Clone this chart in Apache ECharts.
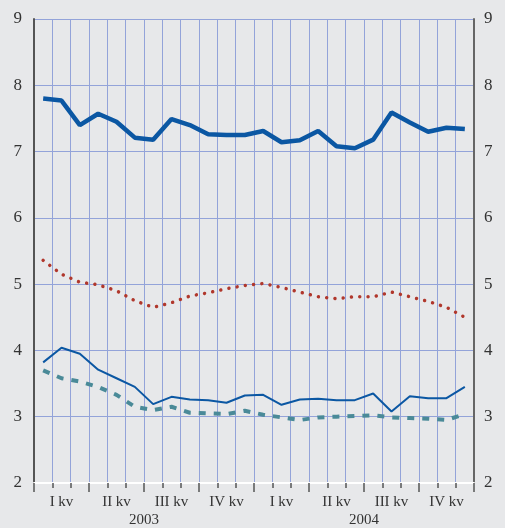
<!DOCTYPE html>
<html>
<head>
<meta charset="utf-8">
<script src="https://cdn.jsdelivr.net/npm/echarts@6/dist/echarts.min.js"></script>
<style>
html,body{margin:0;padding:0;background:#e7e8ea;}
#c{width:505px;height:528px;}
</style>
</head>
<body>
<div id="c"></div>
<script>
const months = ['2003-01','2003-02','2003-03','2003-04','2003-05','2003-06','2003-07','2003-08','2003-09','2003-10','2003-11','2003-12',
                '2004-01','2004-02','2004-03','2004-04','2004-05','2004-06','2004-07','2004-08','2004-09','2004-10','2004-11','2004-12'];
const quarters = ['I kv','II kv','III kv','IV kv','I kv','II kv','III kv','IV kv'];
const years = ['2003','2004'];
const yTicks = [2,3,4,5,6,7,8,9];

const thickBlue = [7.80,7.77,7.40,7.57,7.45,7.21,7.18,7.49,7.40,7.26,7.25,7.25,
                   7.31,7.14,7.17,7.31,7.08,7.05,7.18,7.59,7.44,7.30,7.36,7.34];
const redDotted = [5.36,5.15,5.03,4.99,4.90,4.75,4.65,4.72,4.82,4.87,4.93,4.98,
                   5.01,4.95,4.88,4.81,4.78,4.81,4.81,4.88,4.81,4.74,4.65,4.50];
const thinBlue  = [3.82,4.04,3.95,3.71,3.58,3.45,3.19,3.30,3.26,3.25,3.21,3.32,
                   3.33,3.18,3.26,3.27,3.25,3.25,3.35,3.08,3.31,3.28,3.28,3.45];
const tealDashed= [3.70,3.58,3.53,3.45,3.33,3.15,3.10,3.15,3.06,3.05,3.04,3.09,
                   3.03,2.99,2.95,2.99,3.00,3.01,3.02,2.99,2.98,2.97,2.95,3.04];

const gridBlue = '#93a3d9';
const font = 'Liberation Serif';
const chart = echarts.init(document.getElementById('c'));
const yBase = {
  type:'value', min:yTicks[0], max:yTicks[yTicks.length-1], interval:1,
  axisTick:{show:false},
  axisLabel:{fontFamily:font, fontSize:17, color:'#333'}
};
chart.setOption({
  backgroundColor:'#e7e8ea',
  animation:false,
  grid:{left:34, right:31, top:19, bottom:45, containLabel:false},
  xAxis:[
    {type:'category', data:months, boundaryGap:true, position:'bottom',
     axisLine:{show:true, lineStyle:{color:'#ffffff', width:2}},
     axisTick:{show:true, interval:0, length:5, lineStyle:{color:'#555', width:1.5}},
     axisLabel:{show:false},
     splitLine:{show:true, interval:0, lineStyle:{color:gridBlue, width:1}}},
    {type:'category', data:quarters, boundaryGap:true, position:'bottom',
     axisLine:{show:false},
     axisTick:{show:true, interval:0, length:9, lineStyle:{color:'#555', width:1.5}},
     axisLabel:{show:true, interval:0, margin:12, fontFamily:font, fontSize:15, color:'#333'},
     splitLine:{show:false}},
    {type:'category', data:years, boundaryGap:true, position:'bottom',
     axisLine:{show:false}, axisTick:{show:false},
     axisLabel:{show:true, interval:0, margin:30, fontFamily:font, fontSize:15, color:'#333'},
     splitLine:{show:false}}
  ],
  yAxis:[
    Object.assign({}, yBase, {position:'left',
      axisLine:{show:true, lineStyle:{color:'#555', width:2}},
      axisLabel:Object.assign({}, yBase.axisLabel, {margin:12}),
      splitLine:{show:true, lineStyle:{color:gridBlue, width:1}}}),
    Object.assign({}, yBase, {position:'right',
      axisLine:{show:true, lineStyle:{color:'#666', width:2}},
      axisLabel:Object.assign({}, yBase.axisLabel, {margin:10}),
      splitLine:{show:false}})
  ],
  series:[
    {type:'line', data:thickBlue, xAxisIndex:0, yAxisIndex:0, symbol:'none',
     lineStyle:{color:'#0b57a3', width:4.5}},
    {type:'line', data:redDotted, xAxisIndex:0, yAxisIndex:0, symbol:'none',
     lineStyle:{color:'#b0372c', width:3.5, type:[0.01, 8.3], cap:'round'}},
    {type:'line', data:thinBlue, xAxisIndex:0, yAxisIndex:0, symbol:'none',
     lineStyle:{color:'#0b57a3', width:2}},
    {type:'line', data:tealDashed, xAxisIndex:0, yAxisIndex:0, symbol:'none',
     lineStyle:{color:'#4a8a98', width:4, type:[7, 8]}}
  ]
});
</script>
</body>
</html>
